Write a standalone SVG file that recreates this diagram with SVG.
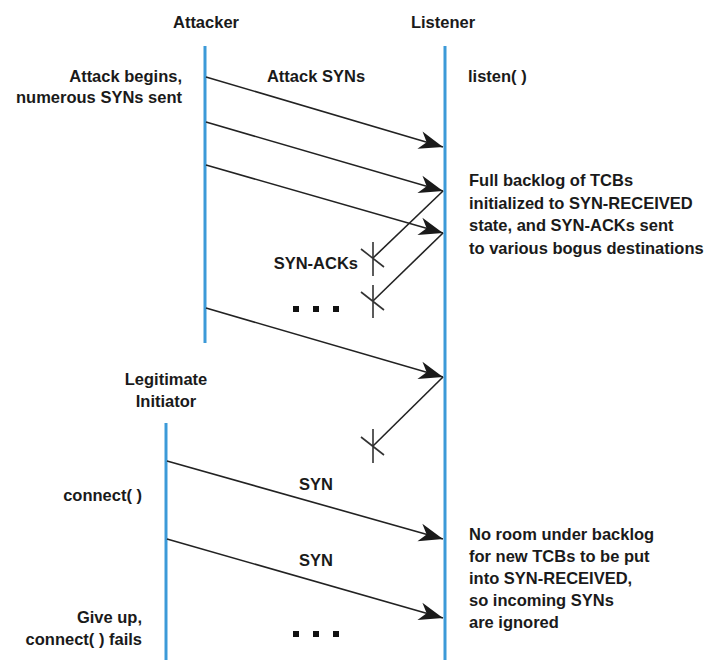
<svg xmlns="http://www.w3.org/2000/svg" width="709" height="660" viewBox="0 0 709 660">
<style>
text{font-family:"Liberation Sans",Arial,sans-serif;font-weight:bold;font-size:16.5px;fill:#1a1a1a}
.life{stroke:#3c9ad8;stroke-width:3;fill:none}
.msg{stroke:#222;stroke-width:1.6;fill:none}
.x{stroke:#333;stroke-width:1.6;fill:none}
.mid{text-anchor:middle}
.end{text-anchor:end}
</style>
<defs>
<marker id="ah" markerUnits="userSpaceOnUse" markerWidth="30" markerHeight="24" viewBox="-26 -12 30 24" refX="0" refY="0" orient="auto">
<path d="M0,0 L-24,-9 L-17,0 L-24,9 Z" fill="#1a1a1a"/>
</marker>
</defs>
<rect width="709" height="660" fill="#fff"/>
<g id="attacker">
<text class="mid" x="206" y="28">Attacker</text>
<line class="life" x1="205" y1="46" x2="205" y2="343"/>
<text class="end" x="182" y="82">Attack begins,</text>
<text class="end" x="182" y="103">numerous SYNs sent</text>
</g>
<g id="listener">
<text class="mid" x="443" y="28">Listener</text>
<line class="life" x1="445" y1="46" x2="445" y2="660"/>
<text x="468" y="82">listen( )</text>
<text x="469" y="186">Full backlog of TCBs</text>
<text x="469" y="208.5">initialized to SYN-RECEIVED</text>
<text x="469" y="231">state, and SYN-ACKs sent</text>
<text x="469" y="253.5">to various bogus destinations</text>
<text x="469" y="540">No room under backlog</text>
<text x="469" y="562">for new TCBs to be put</text>
<text x="469" y="584">into SYN-RECEIVED,</text>
<text x="469" y="606">so incoming SYNs</text>
<text x="469" y="628">are ignored</text>
</g>
<g id="initiator">
<text class="mid" x="166" y="385">Legitimate</text>
<text class="mid" x="166" y="407">Initiator</text>
<line class="life" x1="166" y1="423" x2="166" y2="660"/>
<text class="end" x="142" y="501">connect( )</text>
<text class="end" x="142" y="623">Give up,</text>
<text class="end" x="142" y="645">connect( ) fails</text>
</g>
<g id="connectors">
<line class="msg" x1="206" y1="77" x2="443" y2="147" marker-end="url(#ah)"/>
<line class="msg" x1="206" y1="122" x2="443" y2="191" marker-end="url(#ah)"/>
<line class="msg" x1="206" y1="165" x2="443" y2="233" marker-end="url(#ah)"/>
<line class="msg" x1="206" y1="308" x2="443" y2="377" marker-end="url(#ah)"/>
<line class="msg" x1="443" y1="191" x2="373" y2="258"/>
<line class="msg" x1="443" y1="233" x2="373" y2="301"/>
<line class="msg" x1="443" y1="377" x2="373" y2="446"/>
<line class="msg" x1="167" y1="461" x2="443" y2="539" marker-end="url(#ah)"/>
<line class="msg" x1="167" y1="539" x2="443" y2="618" marker-end="url(#ah)"/>
</g>
<g id="drops">
<path class="x" d="M373,242 V276 M361,249 L384,267"/>
<path class="x" d="M373,285 V318 M361,292 L384,310"/>
<path class="x" d="M373,429 V463 M361,437 L384,455"/>
</g>
<g id="labels">
<text class="mid" x="316" y="82">Attack SYNs</text>
<text class="end" x="358" y="269">SYN-ACKs</text>
<text class="mid" x="316" y="490">SYN</text>
<text class="mid" x="316" y="566">SYN</text>
</g>
<g id="ellipses" fill="#111">
<rect x="293" y="306" width="6" height="6"/>
<rect x="313" y="306" width="6" height="6"/>
<rect x="333" y="306" width="6" height="6"/>
<rect x="293" y="631" width="6" height="6"/>
<rect x="313" y="631" width="6" height="6"/>
<rect x="333" y="631" width="6" height="6"/>
</g>
</svg>
